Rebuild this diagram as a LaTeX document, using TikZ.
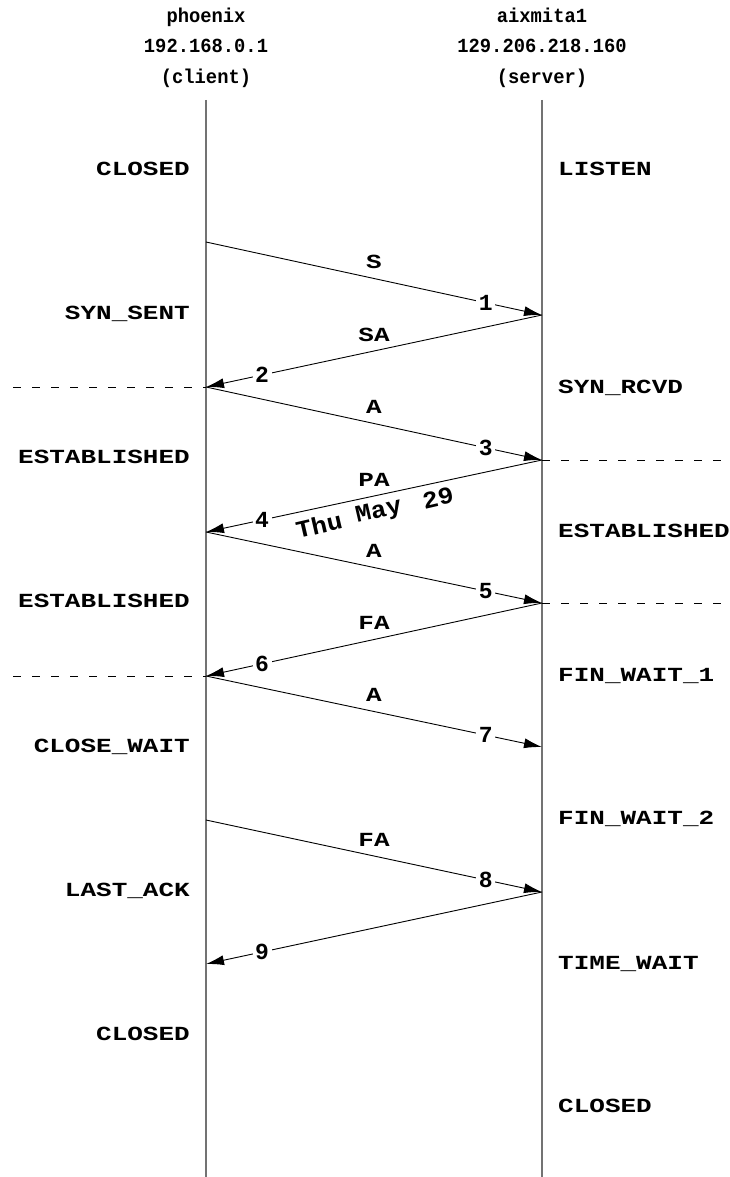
\documentclass[tikz,border=0pt]{standalone}
\usepackage{fontspec}
\usetikzlibrary{arrows.meta}
\newfontfamily\hdrfont{Liberation Mono Bold}
\newfontfamily\tallfont{Liberation Mono Bold}[FakeStretch=0.94]
\newfontfamily\widefont{Liberation Mono Bold}[FakeStretch=1.3]
\newfontfamily\datefont{Liberation Mono Bold}[FakeStretch=1.08]
\tikzset{
  hdr/.style={font=\tallfont\fontsize{20}{30.5}\selectfont, align=center, inner sep=0pt},
  stateL/.style={font=\widefont\fontsize{20}{20}\selectfont, anchor=base east, inner sep=0pt},
  stateR/.style={font=\widefont\fontsize{20}{20}\selectfont, anchor=base west, inner sep=0pt},
  life/.style={draw=black!55, line width=1.4pt},
  msg/.style={draw=black, line width=0.9pt, -{Latex[length=18pt,width=10pt]}},
  msglbl/.style={font=\widefont\fontsize{20}{20}\selectfont, above=6pt, inner sep=3.33pt},
  num/.style={font=\hdrfont\fontsize{23}{23}\selectfont, fill=white, inner sep=2.5pt, pos=0.833},
  sep/.style={draw=black, line width=0.9pt, dash pattern=on 8pt off 11pt},
  dateword/.style={font=\datefont\fontsize{24}{24}\selectfont, rotate=13, inner sep=0pt},
}
\begin{document}
\begin{tikzpicture}[x=1pt,y=-1pt]
\useasboundingbox (0,0) rectangle (730,1177);
% headers
\node[hdr] (client) at (206,47.5) {phoenix\\192.168.0.1\\(client)};
\node[hdr] (server) at (542,47.5) {aixmita1\\129.206.218.160\\(server)};
% lifelines
\coordinate (ct) at (206,100);
\coordinate (cb) at (206,1177);
\coordinate (st) at (542,100);
\coordinate (sb) at (542,1177);
\path[life] (ct) -- (cb);
\path[life] (st) -- (sb);
% event points
\coordinate (c1) at (206,242);
\coordinate (c2) at (206,387);
\coordinate (c3) at (206,532);
\coordinate (c4) at (206,676);
\coordinate (c5) at (206,820);
\coordinate (c6) at (206,964);
\coordinate (s1) at (542,315);
\coordinate (s2) at (542,460);
\coordinate (s3) at (542,603);
\coordinate (s4) at (542,747);
\coordinate (s5) at (542,892);
% dashed separators
\coordinate (dl1) at (13,387);
\coordinate (dl2) at (13,676);
\coordinate (dr1) at (730,460);
\coordinate (dr2) at (730,603);
\path[sep] (dl1) -- (c2);
\path[sep] (dl2) -- (c4);
\path[sep] (s2) -- (dr1);
\path[sep] (s3) -- (dr2);
% messages
\path[msg] (c1) -- node[msglbl] (l1) {S} node[num] (n1) {1} (s1);
\path[msg] (s1) -- node[msglbl] (l2) {SA} node[num] (n2) {2} (c2);
\path[msg] (c2) -- node[msglbl] (l3) {A} node[num] (n3) {3} (s2);
\path[msg] (s2) -- node[msglbl] (l4) {PA} node[num] (n4) {4} (c3);
\path[msg] (c3) -- node[msglbl] (l5) {A} node[num] (n5) {5} (s3);
\path[msg] (s3) -- node[msglbl] (l6) {FA} node[num] (n6) {6} (c4);
\path[msg] (c4) -- node[msglbl] (l7) {A} node[num] (n7) {7} (s4);
\path[msg] (c5) -- node[msglbl] (l8) {FA} node[num] (n8) {8} (s5);
\path[msg] (s5) -- node[num] (n9) {9} (c6);
\node[dateword] (dthu) at (319,525) {Thu};
\node[dateword] (dmay) at (379,512) {May};
\node[dateword] (d29) at (438,498) {29};
% client states
\node[stateL] (cs1) at (190,176) {CLOSED};
\node[stateL] (cs2) at (190,319) {SYN\_SENT};
\node[stateL] (cs3) at (190,463) {ESTABLISHED};
\node[stateL] (cs4) at (190,607) {ESTABLISHED};
\node[stateL] (cs5) at (190,752) {CLOSE\_WAIT};
\node[stateL] (cs6) at (190,896) {LAST\_ACK};
\node[stateL] (cs7) at (190,1040) {CLOSED};
% server states
\node[stateR] (ss1) at (558,176) {LISTEN};
\node[stateR] (ss2) at (558,393) {SYN\_RCVD};
\node[stateR] (ss3) at (558,537) {ESTABLISHED};
\node[stateR] (ss4) at (558,681) {FIN\_WAIT\_1};
\node[stateR] (ss5) at (558,824) {FIN\_WAIT\_2};
\node[stateR] (ss6) at (558,969) {TIME\_WAIT};
\node[stateR] (ss7) at (558,1112) {CLOSED};
\end{tikzpicture}
\end{document}
